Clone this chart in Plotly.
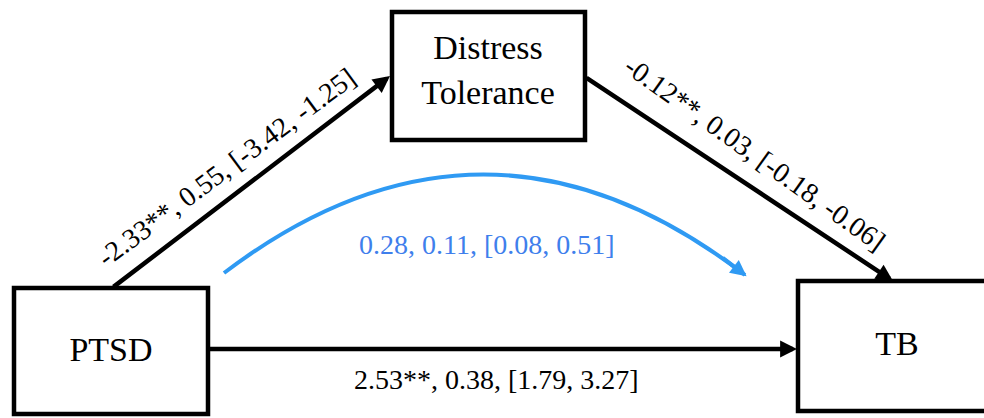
import plotly.graph_objects as go
import math

# ---- data ----
nodes = ["PTSD", "Distress<br>Tolerance", "TB"]
paths = ["a", "b", "c'", "indirect"]
coef = [-2.33, -0.12, 2.53, 0.28]
se = [0.55, 0.03, 0.38, 0.11]
ci_low = [-3.42, -0.18, 1.79, 0.08]
ci_high = [-1.25, -0.06, 3.27, 0.51]
sig = ["**", "**", "**", ""]

labels = [f"{c:.2f}{s}, {e:.2f}, [{lo:.2f}, {hi:.2f}]"
          for c, s, e, lo, hi in zip(coef, sig, se, ci_low, ci_high)]

# ---- layout geometry (pixels, 1 unit = 1 px) ----
W, H = 984, 418
boxes = {  # x0, y0, x1, y1 (line centres)
    "PTSD": (14, 288, 208, 414),
    "DT": (392, 12, 585, 140),
    "TB": (798, 281, 998, 411),
}
node_xy = [(111, 352), (488, 73), (897, 346)]

FONT = "Liberation Serif, Times New Roman, serif"
BLUE_LINE = "#2f9af3"
BLUE_TEXT = "#3f7fec"

fig = go.Figure()
fig.add_trace(go.Scatter(
    x=[p[0] for p in node_xy], y=[p[1] for p in node_xy],
    mode="text", text=nodes,
    textfont=dict(family=FONT, size=34, color="black"),
    hoverinfo="skip", showlegend=False,
))

shapes = []
for key, (x0, y0, x1, y1) in boxes.items():
    shapes.append(dict(type="rect", xref="x", yref="y", x0=x0, y0=y0, x1=x1, y1=y1,
                       line=dict(color="black", width=4.5), fillcolor="rgba(0,0,0,0)"))

# blue curved indirect path
p0 = (224, 273)
c = (485, 75)
p2 = (745, 275)
shapes.append(dict(type="path", xref="x", yref="y",
                   path=f"M {p0[0]},{p0[1]} Q {c[0]},{c[1]} {p2[0]},{p2[1]}",
                   line=dict(color=BLUE_LINE, width=4)))

annotations = []
def arrow(x0, y0, x1, y1, color="black", width=4.5, size=0.75):
    annotations.append(dict(x=x1, y=y1, ax=x0, ay=y0, xref="x", yref="y",
                            axref="x", ayref="y", text="", showarrow=True,
                            arrowhead=2, arrowsize=size, arrowwidth=width,
                            arrowcolor=color, standoff=0, startstandoff=0))

arrow(112, 288, 390, 76)
arrow(585, 77, 893, 281)
arrow(208, 349, 797, 349)
# blue arrowhead along the end tangent
dx, dy = p2[0] - c[0], p2[1] - c[1]
L = math.hypot(dx, dy)
arrow(p2[0] - 30 * dx / L, p2[1] - 30 * dy / L, p2[0] + 2 * dx / L, p2[1] + 2 * dy / L,
      color=BLUE_LINE, width=4, size=0.8)

def label(txt, x, y, angle=0, color="black"):
    annotations.append(dict(x=x, y=y, xref="x", yref="y", text=txt, showarrow=False,
                            textangle=angle, font=dict(family=FONT, size=28, color=color),
                            xanchor="center", yanchor="middle"))

label(labels[0], 226, 167, -36.5)
label(labels[1], 755, 153, 35.5)
label(labels[2], 496, 379)
label(labels[3], 487, 244, 0, BLUE_TEXT)

fig.update_layout(
    width=W, height=H, margin=dict(l=0, r=0, t=0, b=0),
    paper_bgcolor="white", plot_bgcolor="white",
    xaxis=dict(range=[0, W], visible=False, fixedrange=True),
    yaxis=dict(range=[H, 0], visible=False, fixedrange=True),
    shapes=shapes, annotations=annotations, showlegend=False,
)
fig.write_html("out.html")
